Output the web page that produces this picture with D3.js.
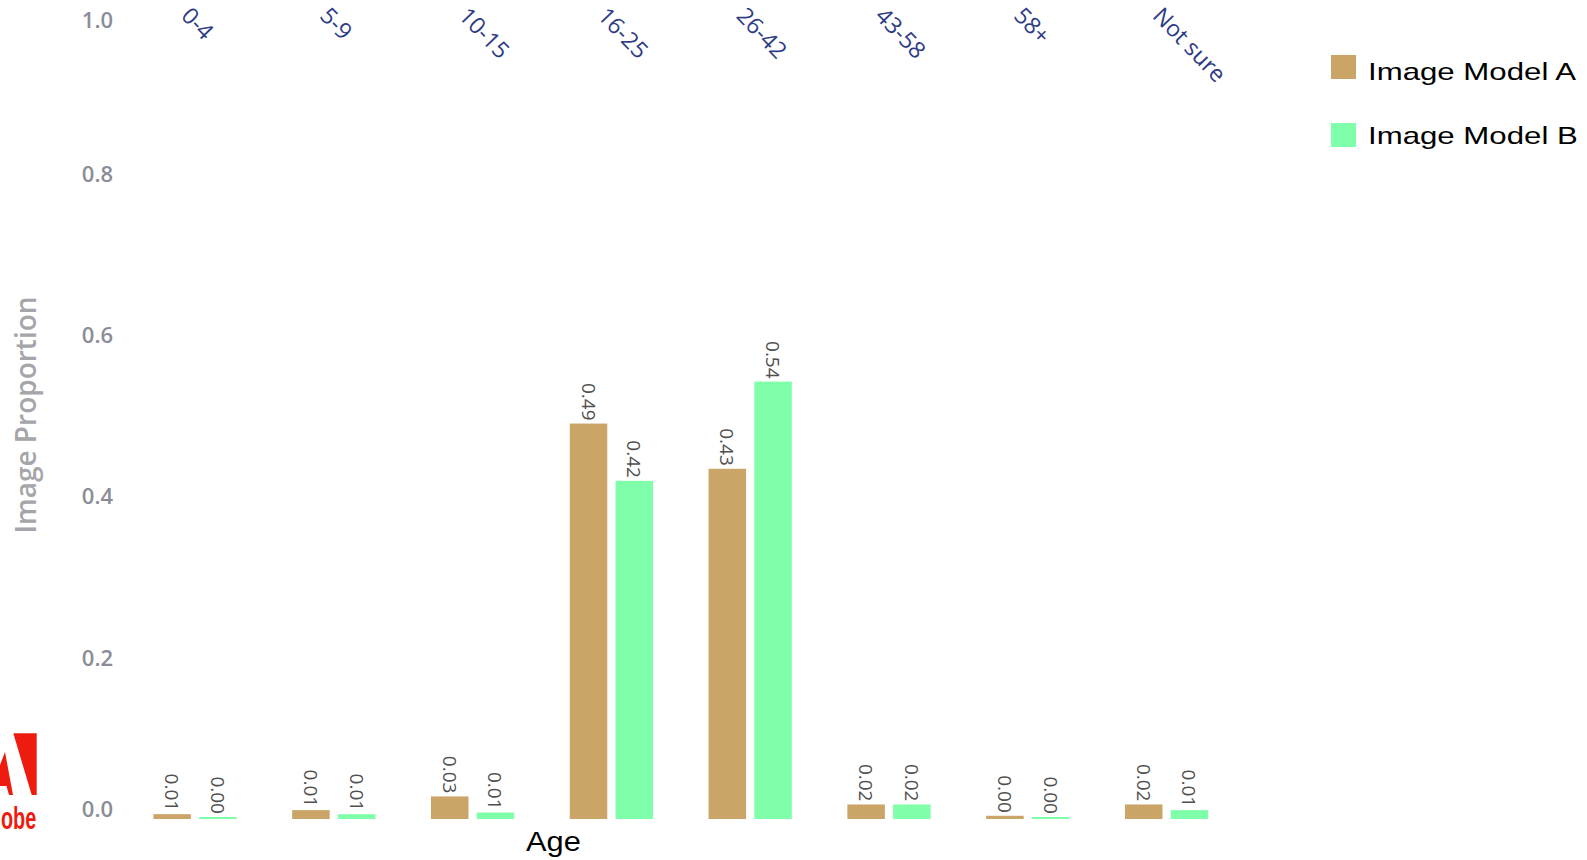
<!DOCTYPE html>
<html>
<head>
<meta charset="utf-8">
<script src="https://cdn.jsdelivr.net/npm/d3@7"></script>
<style>
  body { margin: 0; background: #fff; }
  svg { display: block; }
</style>
</head>
<body>
<svg id="chart" width="1587" height="860"></svg>
<script>
// Share of images per perceived age group, for two image models
const ageGroups = ["0-4", "5-9", "10-15", "16-25", "26-42", "43-58", "58+", "Not sure"];
const seriesNames = ["Image Model A", "Image Model B"];
const modelA = [0.006, 0.011, 0.028, 0.490, 0.434, 0.018, 0.004, 0.018];
const modelB = [0.0025, 0.006, 0.008, 0.419, 0.542, 0.018, 0.0025, 0.011];
const yTicks = [0, 0.2, 0.4, 0.6, 0.8, 1.0];
const seriesColors = ["#cba568", "#80ffaa"];

const svg = d3.select("#chart");
const valuesBySeries = [modelA, modelB];

const x0 = d3.scaleBand()
  .domain(ageGroups)
  .range([125.6, 1236])
  .paddingInner(0.4)
  .paddingOuter(0.2);

const x1 = d3.scaleBand()
  .domain(seriesNames)
  .range([0, x0.bandwidth()])
  .paddingInner(0.18);

const y = d3.scaleLinear().domain([0, 1]).range([819, 12]);

const color = d3.scaleOrdinal().domain(seriesNames).range(seriesColors);

// Y axis: labels only, no line or ticks
const yAxis = svg.append("g")
  .attr("transform", "translate(113,0)")
  .call(d3.axisLeft(y).tickValues(yTicks).tickSize(0).tickPadding(0).tickFormat(d3.format(".1f")));
yAxis.select(".domain").remove();
yAxis.selectAll("text")
  .attr("font-family", "'Open Sans', sans-serif")
  .attr("font-size", 22)
  .attr("font-weight", 600)
  .attr("fill", "#8a8d98")
  .attr("dy", "0.35em")
  .attr("y", d => Math.min(Math.max(y(d), 20), 809) - y(d));

// Y axis title
svg.append("text")
  .attr("transform", "translate(25,415) rotate(-90)")
  .attr("text-anchor", "middle")
  .attr("dominant-baseline", "central")
  .attr("font-family", "'Open Sans', sans-serif")
  .attr("font-size", 28)
  .attr("font-weight", 600)
  .attr("fill", "#a6a6aa")
  .text("Image Proportion");

// Category labels along the top, slanted
svg.append("g")
  .selectAll("text")
  .data(ageGroups)
  .join("text")
  .attr("transform", d => `translate(${x0(d) + x0.bandwidth() / 2 - 15},17) rotate(46)`)
  .attr("font-family", "'Open Sans', sans-serif")
  .attr("font-size", 23)
  .attr("font-weight", 500)
  .attr("fill", "#2e3b85")
  .text(d => d);

// Bars
const rows = ageGroups.map((g, i) => ({
  group: g,
  items: seriesNames.map((s, j) => ({ series: s, value: valuesBySeries[j][i] }))
}));

const groups = svg.append("g")
  .selectAll("g")
  .data(rows)
  .join("g")
  .attr("transform", d => `translate(${x0(d.group)},0)`);

groups.selectAll("rect")
  .data(d => d.items)
  .join("rect")
  .attr("x", d => x1(d.series))
  .attr("width", x1.bandwidth())
  .attr("y", d => y(d.value))
  .attr("height", d => y(0) - y(d.value))
  .attr("fill", d => color(d.series));

// Value labels above each bar, reading downward
groups.selectAll("text")
  .data(d => d.items)
  .join("text")
  .attr("transform", d => `translate(${x1(d.series) + x1.bandwidth() / 2},${y(d.value) - 3}) rotate(90)`)
  .attr("text-anchor", "end")
  .attr("dominant-baseline", "central")
  .attr("font-family", "'Open Sans', sans-serif")
  .attr("font-size", 19)
  .attr("font-weight", 500)
  .attr("fill", "#505050")
  .text(d => d3.format(".2f")(d.value));

// X axis title
svg.append("text")
  .attr("transform", "translate(526,851) scale(1.1,1)")
  .attr("font-family", "'Liberation Sans', Arial, sans-serif")
  .attr("font-size", 28)
  .attr("fill", "#000")
  .text("Age");

// Legend
const legend = svg.append("g")
  .selectAll("g")
  .data(seriesNames)
  .join("g")
  .attr("transform", (d, i) => `translate(1331,${55 + i * 68})`);

legend.append("rect")
  .attr("width", 25)
  .attr("height", 24)
  .attr("fill", d => color(d));

legend.append("text")
  .attr("transform", (d, i) => `translate(37,${25 - i * 4}) scale(1.3,1)`)
  .attr("font-family", "'Liberation Sans', Arial, sans-serif")
  .attr("font-size", 24)
  .attr("fill", "#000")
  .text(d => d);

// Corner logo mark
const logo = svg.append("g").attr("fill", "#ed1c0f");
logo.append("path").attr("d", "M13.3,733.3 L36.7,733.3 L36.7,795 L31.7,795 Z");
logo.append("path").attr("d", "M5,752 L13,795 L9,795 L6.5,786 L0,786 L0,765 Z");
logo.append("text")
  .attr("transform", "translate(1,829) scale(0.64,1)")
  .attr("font-family", "'Liberation Sans', sans-serif")
  .attr("font-weight", 700)
  .attr("font-size", 31)
  .text("obe");
</script>
</body>
</html>
